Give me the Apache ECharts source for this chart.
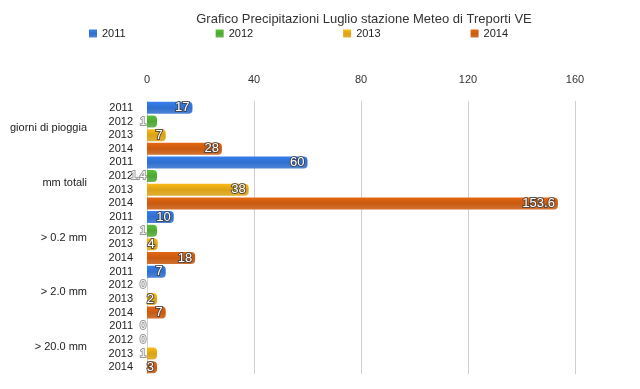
<!DOCTYPE html>
<html>
<head>
<meta charset="utf-8">
<script src="https://cdn.jsdelivr.net/npm/echarts@6/dist/echarts.min.js"></script>
<style>
  html, body { margin: 0; padding: 0; background: #fff; }
  #chart { width: 640px; height: 389px; }
</style>
</head>
<body>
<div id="chart"></div>
<script>
(function () {
    "use strict";

    var groups = ['giorni di pioggia', 'mm totali', '> 0.2 mm', '> 2.0 mm', '> 20.0 mm'];
    var years = ['2011', '2012', '2013', '2014'];
    var xTicks = [0, 40, 80, 120, 160];

    // one array per year, same order as groups
    var v2011 = [17, 60, 10, 7, 0];
    var v2012 = [1, 1.4, 1, 0, 0];
    var v2013 = [7, 38, 4, 2, 1];
    var v2014 = [28, 153.6, 18, 7, 3];

    var yearValues = [v2011, v2012, v2013, v2014];
    var colors = ['#2f6fcf', '#4ea832', '#dba214', '#c95a10'];
    var font = 'Helvetica, Arial, sans-serif';

    // 20 rows: each group has one row per year
    var rowLabels = [];
    groups.forEach(function () {
        years.forEach(function (y) { rowLabels.push(y); });
    });

    var series = years.map(function (y, yi) {
        var data = rowLabels.map(function (lbl, r) {
            if (r % 4 !== yi) return '-';
            var v = yearValues[yi][Math.floor(r / 4)];
            var item = { value: v };
            if (v === 0) {
                item.itemStyle = { color: 'rgba(0,0,0,0)' };
            }
            if (v < 1.5) {
                // tiny values: ghost label left of the bar, like the original
                item.label = {
                    position: 'left',
                    distance: 1,
                    color: '#fff',
                    textBorderColor: '#999',
                    textBorderWidth: 2,
                    fontSize: 11
                };
            }
            return item;
        });
        return {
            name: y,
            type: 'bar',
            stack: 'all',
            barWidth: 12,
            barMinHeight: 10,
            data: data,
            itemStyle: {
                color: new echarts.graphic.LinearGradient(0, 0, 0, 1, [
                    { offset: 0, color: echarts.color.lift(colors[yi], -0.15) },
                    { offset: 0.5, color: colors[yi] },
                    { offset: 1, color: echarts.color.lift(colors[yi], 0.15) }
                ]),
                borderRadius: [0, 4, 4, 0]
            },
            label: {
                show: true,
                position: 'insideRight',
                distance: 3,
                color: '#fff',
                fontSize: 13,
                fontFamily: font,
                textBorderColor: 'rgba(60,60,60,0.8)',
                textBorderWidth: 2,
                formatter: function (p) { return String(p.value); }
            }
        };
    });

    var myChart = echarts.init(document.getElementById('chart'));
    var option = {
        animation: false,
        title: {
            text: 'Grafico Precipitazioni Luglio stazione Meteo di Treporti VE',
            left: 359,
            textAlign: 'center',
            top: 8,
            textStyle: { fontSize: 13, fontWeight: 'normal', color: '#333', fontFamily: font }
        },
        legend: {
            data: years,
            left: 84,
            top: 23,
            itemWidth: 8,
            itemHeight: 8,
            itemGap: 90,
            icon: 'rect',
            textStyle: { fontSize: 11, color: '#222', fontFamily: font }
        },
        grid: { left: 147, right: 65, top: 101, bottom: 15 },
        xAxis: {
            type: 'value',
            position: 'top',
            min: 0,
            max: 160,
            interval: 40,
            axisLine: { show: false },
            axisTick: { show: false },
            axisLabel: {
                margin: 16,
                fontSize: 11,
                color: '#333',
                fontFamily: font,
                formatter: function (v) { return xTicks.indexOf(v) >= 0 ? String(v) : ''; }
            },
            splitLine: { lineStyle: { color: '#cfcfcf' } }
        },
        yAxis: [{
            type: 'category',
            inverse: true,
            data: rowLabels,
            axisLine: { show: false },
            axisTick: { show: false },
            axisLabel: { interval: 0, margin: 14, fontSize: 11, color: '#222', fontFamily: font }
        }, {
            type: 'category',
            inverse: true,
            position: 'left',
            offset: 52,
            data: groups,
            axisLine: { show: false },
            axisTick: { show: false },
            axisLabel: { interval: 0, margin: 8, fontSize: 11, color: '#222', fontFamily: font }
        }],
        series: series
    };
    myChart.setOption(option, true);
})();
</script>
</body>
</html>
